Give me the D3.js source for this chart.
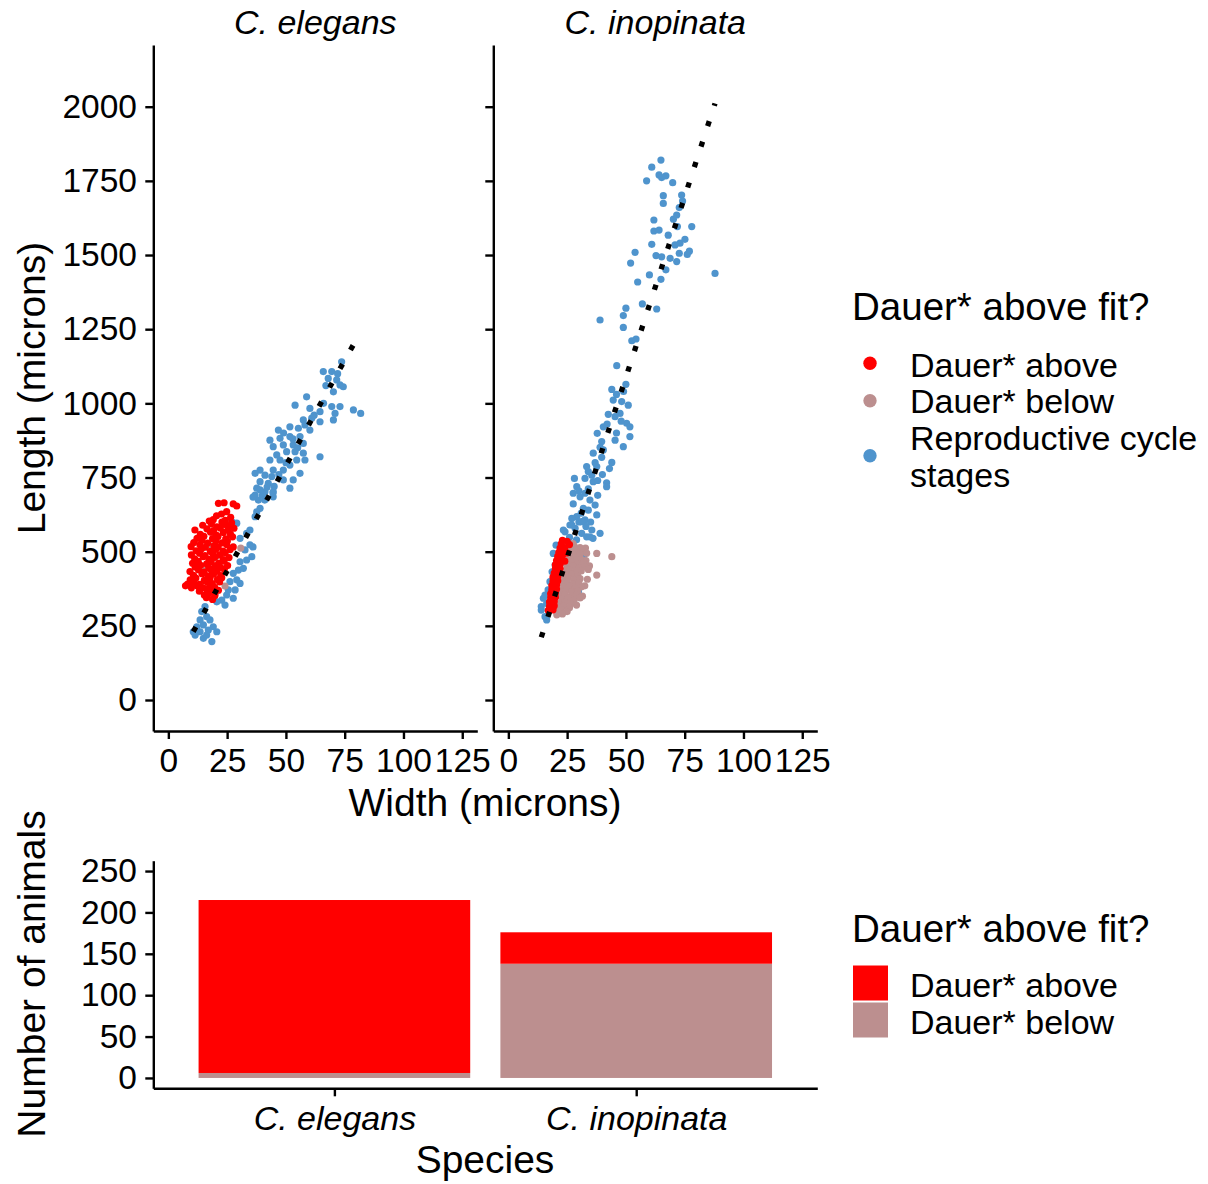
<!DOCTYPE html>
<html>
<head>
<meta charset="utf-8">
<script src="https://cdn.jsdelivr.net/npm/d3@7"></script>
<style>
  body { margin: 0; background: #fff; }
  svg text { font-family: "Liberation Sans", Arial, Helvetica, sans-serif; fill: #000; }
</style>
</head>
<body>
<svg id="chart" width="1208" height="1184"></svg>
<script>
// ---- data -------------------------------------------------------------
const speciesNames = ["C. elegans", "C. inopinata"];
const statusLabels = ["Dauer* above", "Dauer* below", "Reproductive cycle stages"];
const statusColors = ["#FF0000", "#BC8F8F", "#4F94CD"];

const widthTicks = [0, 25, 50, 75, 100, 125];
const lengthTicks = [0, 250, 500, 750, 1000, 1250, 1500, 1750, 2000];
const countTicks = [0, 50, 100, 150, 200, 250];

// animals per species, split by position relative to the fit
const dauerAboveCounts = [209, 38];
const dauerBelowCounts = [6, 138];

// linear fit of length on width (reproductive stages), per species
const fitIntercepts = [80, -129.5];
const fitSlopes = [14.2, 24.35];

// [width, length] in microns
const elegansRepro = [
  [73.7,1140],[65.9,1107],[69.5,1107],[71.6,1079],[73,1062],[74.4,1056],[70.2,1039],[68,1084],
  [58.8,1022],[53.9,994],[60.2,983],[64.5,972],[69.5,989],[73,989],[70.9,966],[70.2,944],
  [78.7,978],[81.8,966],[61,950],[57.4,944],[64.5,938],[51.7,921],[55.3,916],[58.1,927],
  [60.2,910],[46.8,910],[51.7,888],[56,888],[47.5,882],[43.2,876],[44.6,854],[48.9,860],
  [53.1,860],[57.4,865],[50.3,837],[53.9,837],[57.4,832],[64.5,820],[46.1,826],[43.2,809],
  [47.5,809],[58.1,809],[51.7,792],[54.6,809],[44.6,775],[48.9,775],[56,764],[39,775],
  [36.9,764],[41.1,758],[44,753],[48.9,742],[53.1,742],[39,736],[42.5,730],[51.7,714],
  [37.6,714],[41.1,702],[44.6,702],[36.9,691],[44.6,685],[38.3,674],[39,646],
  [45,720],[40,690],[47,760],[50,800],[55,850],[62,960],[66,1000],[72,1100],[67,1060],[49,900],[53,880],
  [37.6,634],[34.7,573],[33.3,562],[29.1,596],[27,601],[30.5,545],[34.7,523],[32.6,506],
  [35.5,483],[33.3,472],[30.5,466],[29.8,438],[31.9,444],[27.6,427],[29.1,405],[30.5,393],
  [26.2,399],[25.5,371],[28.4,371],[24.8,354],[22.7,337],[20.6,331],[27.6,343],[24.1,320],
  [19.9,360],[15.6,315],[14.2,298],[16.3,281],[13.5,270],[17.7,270],[14.9,253],[19.1,247],
  [12.1,247],[10.6,230],[13.5,230],[17,236],[20.6,230],[11.4,219],[14.9,208],[18.5,197],
  [16.3,219],[36.9,618],[36,516],[36,684],[39,708],[42,718],[41,674],[44.5,698]
];
const elegansBelow = [[30.8,512],[24.1,384],[20,480],[18,520],[15,450],[22,410]];
const elegansAbove = [
  [23.7,665],[21.3,663],[27.6,661],[29.1,654],[24.8,635],[20.5,621],[26.5,616],[22.6,627],
  [17.4,603],[19.1,608],[22.8,600],[24.2,606],[26.9,597],
  [14.6,589],[18.3,594],[20.6,584],[23.9,592],[25.7,586],
  [11.3,573],[16.4,577],[19.2,571],[22.1,580],[25.3,573],[27.9,579],
  [13.6,558],[17.9,566],[20.4,556],[23.4,565],[26.4,559],
  [12.2,545],[15.1,552],[18.8,544],[21.1,551],[24.4,543],[27.3,550],
  [10.8,531],[14.3,538],[16.7,529],[20.3,537],[22.9,530],[25.1,536],
  [9.7,517],[13.4,523],[15.7,515],[19.4,520],[21.2,516],[24.8,524],[27.6,516],
  [11.8,503],[14.1,510],[17.9,501],[20.2,508],[23.3,502],[26.3,507],
  [9.8,489],[13.3,495],[15.6,487],[18.9,494],[21.8,489],[24.2,496],
  [11.2,476],[14.8,483],[17.3,474],[19.7,481],[23.3,473],[25.8,480],
  [10.3,461],[12.7,467],[16.3,459],[18.2,466],[21.4,461],[23.7,468],
  [11.4,448],[13.7,454],[17.2,445],[19.8,452],[22.2,447],[25.2,453],
  [9.2,433],[12.8,439],[15.2,431],[18.3,438],[20.7,434],[23.8,440],
  [10.7,420],[14.3,426],[16.8,418],[19.2,424],[22.3,419],
  [9.3,405],[11.7,411],[15.3,403],[17.7,410],[20.9,406],[22.7,412],
  [8.2,391],[10.8,397],[13.2,390],[16.8,396],[18.7,392],[21.8,398],
  [7.3,385],[9.8,378],[12.3,384],[14.7,379],[17.8,385],[19.7,380],
  [13.2,367],[16.3,373],[18.2,366],[21.3,370],
  [15.3,354],[17.2,359],[19.8,352],
  [16.2,345],[18.8,339]
];

const inopinataRepro = [
  [64.9,1820],[61,1796],[64.1,1770],[67,1767],[65.2,1761],[58.8,1750],[69.9,1744],[65.9,1700],
  [65.9,1674],[73.7,1702],[74.1,1682],[72.7,1660],[61.9,1618],[70.2,1621],[71.6,1635],[61.9,1581],
  [64.1,1584],[71.9,1596],[78,1596],[68,1567],[61,1536],[70.9,1534],[73,1540],[75.1,1553],
  [53.9,1509],[62.8,1498],[65.2,1494],[68.8,1489],[72.7,1506],[76.1,1502],[77,1513],[71.6,1478],
  [52,1473],[60,1433],[67,1450],[64.9,1418],[55,1409],[87.9,1438],
  [57,1335],[63.1,1318],[50,1321],[48.9,1296],[39,1281],[48.9,1256],[52.5,1211],[54.3,1217],[46.1,1127],
  [50,1064],[44,1047],[48.2,1006],[51,994],[42.5,963],[47.5,966],[50.3,933],[51.7,921],
  [40.4,921],[37.8,899],[39.7,871],[45.4,876],[48.9,854],[51.7,888],[36.1,832],[40.4,843],
  [44,801],[33.3,787],[37.6,787],[35.5,758],[32.6,747],[28.1,747],[41.8,732],[41.8,719],
  [29.1,719],[32.6,697],[27.6,697],[30.5,685],[34.7,674],[36.9,657],[27.6,661],[31.9,646],
  [37.6,624],[29.1,618],[32.6,607],[26.2,590],[28.4,579],[24.1,567],[31.2,562],[35.5,573],
  [39,562],[33.3,550],
  [44.6,1011],[45.4,955],[42,930],[39,852],[39.7,818],[36.9,800],[36.1,736],[30,705],[34,712],
  [31,630],[34,640],[30,600],[27,612],[35,600],[33,585],[29,540],[26,548],[36,545],
  [38,690],[40,760],[43,780],[38,740],[34,770],[46,900],[48,940],[46,1030],[49,1040],
  [19.1,494],[19.9,455],[17.7,399],[14.9,343],[14,315],[16.3,326],[14,303],[17.7,303],
  [16.3,270],[15.6,281],[29.8,365],[16.9,371],[18.6,432],[15.6,354],[20.3,522],[27,590],
  [31.2,601],[23.4,573],[34.7,550],[32.2,489]
];
const inopinataBelow = [
  [25,530],[27.5,527],[25.5,516],[28,519],[30.5,514],[32.8,512],
  [26,502],[28.5,505],[31,500],[33.3,495],
  [25.5,490],[28,488],[30.5,492],[37.6,494],[44,483],
  [26,476],[28.5,479],[31,474],[33,470],
  [24.5,462],[27,465],[29.5,460],[32,463],[34.5,452],
  [25,448],[27.5,451],[30,446],[32.5,449],
  [23.5,434],[26,437],[28.5,432],[31,435],[34,440],
  [24.5,421],[27,424],[29.5,419],[37.6,421],
  [23,408],[25.5,411],[28,406],[30.5,409],[33.6,407],
  [22.5,394],[25,397],[27.5,392],[30,395],[32.5,385],
  [23.5,380],[26,383],[28.5,378],[31,381],
  [22,366],[24.5,369],[27,364],[29.5,367],
  [21.5,352],[24,355],[26.5,350],[29,353],[31.5,350],
  [23,340],[25.5,343],[28,338],[30.5,344],
  [21.5,326],[24,329],[26.5,324],[29,320],
  [21,313],[23.5,316],[26,311],
  [20.5,300],[22.5,303],[25,298],
  [20.6,287],[23,290]
];
const inopinataAbove = [
  [23,538],[25,535],[22.5,526],[26,524],[22,512],[24,514],
  [21.5,498],[23.5,500],[25,496],[21,484],[23,486],
  [20.5,470],[22.5,472],[24,468],[20,456],[22,458],
  [20,442],[22,444],[19.5,428],[21.5,430],[19,414],[21,416],
  [19,400],[21,402],[18.5,386],[20.5,388],[18.5,372],[20.5,374],
  [18,358],[20,360],[18,344],[20,346],[17.5,330],[19.5,332],
  [17.5,316],[19.5,318],[17,302],[19,304]
];

// per-species layers in drawing order: reproductive, below, above
const speciesPoints = [
  [elegansRepro, elegansBelow, elegansAbove],
  [inopinataRepro, inopinataBelow, inopinataAbove]
];
const layerStatus = [2, 1, 0];

// ---- layout -----------------------------------------------------------
const svg = d3.select("#chart");
const tickFont = 33.5, titleFont = 39, legendTitleFont = 38.5, legendFont = 34;
const axisStroke = 2.4;

function styleAxis(g) {
  g.select(".domain").attr("stroke", "#000").attr("stroke-width", axisStroke);
  g.selectAll(".tick line").attr("stroke", "#000").attr("stroke-width", axisStroke);
  g.selectAll(".tick text").attr("font-size", tickFont).attr("fill", "#000")
    .style("font-family", '"Liberation Sans", Arial, Helvetica, sans-serif');
}

// ---- scatter facets ---------------------------------------------------
const panelX = [153.3, 493.3];
const panelW = 324;
const x = d3.scaleLinear().domain([-6.4, 131.4]).range([0, panelW]);
const y = d3.scaleLinear().domain([-104.5, 2208]).range([731, 45]);

speciesNames.forEach((name, i) => {
  const g = svg.append("g").attr("transform", `translate(${panelX[i]},0)`);

  // points
  speciesPoints[i].forEach((pts, k) => {
    g.append("g").selectAll("circle").data(pts).join("circle")
      .attr("cx", d => x(d[0]))
      .attr("cy", d => y(d[1]))
      .attr("r", 3.6)
      .attr("fill", statusColors[layerStatus[k]]);
  });

  // fit line across the reproductive width range
  const wExt = d3.extent(speciesPoints[i][0], d => d[0]);
  const fit = wExt.map(w => [w, fitIntercepts[i] + fitSlopes[i] * w]);
  g.append("path")
    .attr("d", d3.line().x(d => x(d[0])).y(d => y(d[1]))(fit))
    .attr("fill", "none")
    .attr("stroke", "#000")
    .attr("stroke-width", 5.3)
    .attr("stroke-dasharray", "5.3 16.2");

  // axes
  g.append("g").attr("transform", "translate(0,731)")
    .call(d3.axisBottom(x).tickValues(widthTicks).tickSize(8).tickSizeOuter(0).tickPadding(9.2))
    .call(styleAxis);
  g.append("g")
    .call(d3.axisLeft(y).tickValues(lengthTicks).tickSize(8).tickSizeOuter(0).tickPadding(8.3)
      .tickFormat(i === 0 ? d3.format("d") : () => ""))
    .call(styleAxis);

  // strip label
  svg.append("text")
    .attr("x", panelX[i] + panelW / 2).attr("y", 34)
    .attr("text-anchor", "middle")
    .attr("font-size", 34).attr("font-style", "italic")
    .text(name);
});

svg.append("text")
  .attr("transform", "translate(45,388) rotate(-90)")
  .attr("text-anchor", "middle").attr("font-size", titleFont)
  .text("Length (microns)");
svg.append("text")
  .attr("x", 485).attr("y", 816)
  .attr("text-anchor", "middle").attr("font-size", titleFont)
  .text("Width (microns)");

// scatter legend
const lg1 = svg.append("g");
lg1.append("text").attr("x", 852).attr("y", 320).attr("font-size", legendTitleFont)
  .text("Dauer* above fit?");
const keyY1 = [363.3, 400.7, 455.7];
const labelLines1 = [["Dauer* above"], ["Dauer* below"], ["Reproductive cycle", "stages"]];
const labelY1 = [377, 413, 450];
statusLabels.forEach((s, i) => {
  lg1.append("circle").attr("cx", 870).attr("cy", keyY1[i]).attr("r", 6.7)
    .attr("fill", statusColors[i]);
  const t = lg1.append("text").attr("x", 910).attr("y", labelY1[i]).attr("font-size", legendFont);
  labelLines1[i].forEach((line, j) => {
    t.append("tspan").attr("x", 910).attr("dy", j === 0 ? 0 : 36.5).text(line);
  });
});

// ---- stacked bars -----------------------------------------------------
const xb = d3.scaleLinear().domain([0.4, 2.6]).range([153.3, 817.3]);
const yb = d3.scaleLinear().domain([-12.5, 262.5]).range([1088.3, 860.7]);
const barHalf = 0.45;

const barRows = speciesNames.map((name, i) => ({
  idx: i + 1, below: dauerBelowCounts[i], above: dauerAboveCounts[i]
}));
const gb = svg.append("g");
barRows.forEach(r => {
  gb.append("rect")
    .attr("x", xb(r.idx - barHalf)).attr("width", xb(r.idx + barHalf) - xb(r.idx - barHalf))
    .attr("y", yb(r.below)).attr("height", yb(0) - yb(r.below))
    .attr("fill", statusColors[1]);
  gb.append("rect")
    .attr("x", xb(r.idx - barHalf)).attr("width", xb(r.idx + barHalf) - xb(r.idx - barHalf))
    .attr("y", yb(r.below + r.above)).attr("height", yb(r.below) - yb(r.below + r.above))
    .attr("fill", statusColors[0]);
});

gb.append("g").attr("transform", "translate(0,1088.3)")
  .call(d3.axisBottom(xb).tickValues([1, 2]).tickSize(8).tickSizeOuter(0).tickPadding(9.6)
    .tickFormat(d => speciesNames[d - 1]))
  .call(styleAxis)
  .call(g => g.selectAll(".tick text").attr("font-style", "italic").attr("font-size", 34));
gb.append("g").attr("transform", "translate(153.3,0)")
  .call(d3.axisLeft(yb).tickValues(countTicks).tickSize(8).tickSizeOuter(0).tickPadding(8.3))
  .call(styleAxis);

svg.append("text")
  .attr("transform", "translate(45,974) rotate(-90)")
  .attr("text-anchor", "middle").attr("font-size", titleFont)
  .text("Number of animals");
svg.append("text")
  .attr("x", 485).attr("y", 1173)
  .attr("text-anchor", "middle").attr("font-size", titleFont)
  .text("Species");

// bar legend
const lg2 = svg.append("g");
lg2.append("text").attr("x", 852).attr("y", 942).attr("font-size", legendTitleFont)
  .text("Dauer* above fit?");
const keyY2 = [965.5, 1002.5];
const labelY2 = [997, 1034];
[0, 1].forEach(i => {
  lg2.append("rect").attr("x", 853).attr("y", keyY2[i]).attr("width", 35).attr("height", 35)
    .attr("fill", statusColors[i]);
  lg2.append("text").attr("x", 910).attr("y", labelY2[i]).attr("font-size", legendFont)
    .text(statusLabels[i]);
});
</script>
</body>
</html>
